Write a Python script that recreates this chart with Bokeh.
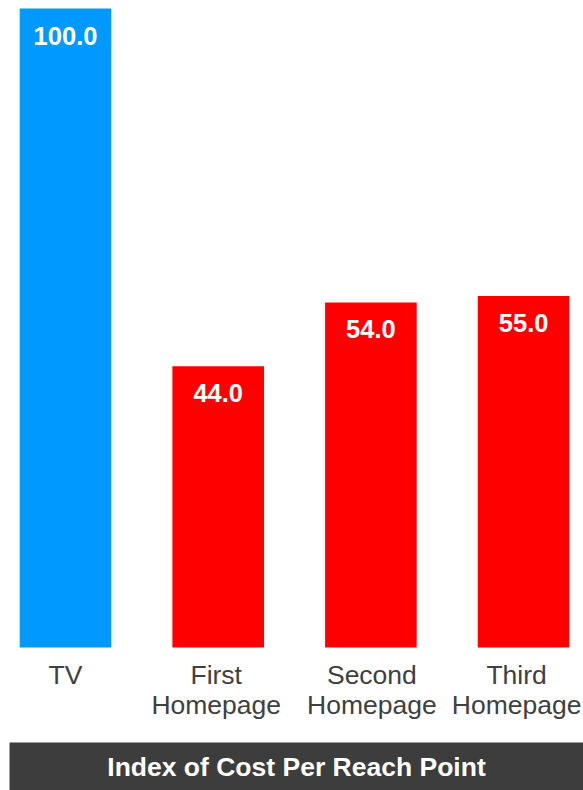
from bokeh.plotting import figure
from bokeh.models import Range1d, ColumnDataSource
from bokeh.core.properties import value
from bokeh.embed import file_html
from bokeh.resources import INLINE

# Data
categories = ["TV", "First\nHomepage", "Second\nHomepage", "Third\nHomepage"]
index_values = [100.0, 44.0, 54.0, 55.0]
bar_colors = ["#0099FF", "#FF0000", "#FF0000", "#FF0000"]
chart_title = "Index of Cost Per Reach Point"

# nudge for the last category label so it stays inside the canvas
label_shift_px = [0, -2, 1, -7]

W, H = 583, 790
positions = list(range(len(categories)))

src = ColumnDataSource(dict(
    x=positions,
    top=index_values,
    color=bar_colors,
    cat=categories,
    shift=label_shift_px,
    label=[f"{v:.1f}" for v in index_values],
    zero=[0] * len(categories),
))

# axis scaling: one category step ~152.7 px, 100 index points ~639 px
step_px = 152.7
x_start = -65 / step_px
x_end = x_start + W / step_px
y_px = 639 / 100.0
y_end = 100 + 8 / y_px
y_start = -(H - 647) / y_px

p = figure(width=W, height=H, output_backend="svg", toolbar_location=None,
           x_range=Range1d(x_start, x_end), y_range=Range1d(y_start, y_end),
           min_border=0, outline_line_color=None)
p.axis.visible = False
p.grid.visible = False
p.background_fill_color = "white"
p.border_fill_color = "white"

p.vbar(x="x", top="top", bottom=0, width=0.6, color="color", line_color=None, source=src)

# value labels inside the bar tops
p.text(x="x", y="top", text="label", source=src, text_align="center",
       text_baseline="top", y_offset=18, text_color="white",
       text_font=value("Liberation Sans"), text_font_style="bold",
       text_font_size="25.5px")

# category labels under the bars
p.text(x="x", y="zero", text="cat", source=src, text_align="center",
       text_baseline="top", x_offset="shift", y_offset=12, text_color="#404040",
       text_font=value("Liberation Sans"), text_font_size="26.5px",
       text_line_height=1.0)

# title band at the bottom
band_top = -(742 - 647) / y_px
band_left = x_start + 9 / step_px
p.quad(left=[band_left], right=[x_end], top=[band_top], bottom=[y_start],
       color="#3D3D3D", line_color=None)
p.text(x=[(band_left + x_end) / 2], y=[(band_top + y_start) / 2], text=[chart_title],
       text_align="center", text_baseline="middle", text_color="white",
       text_font=value("Liberation Sans"), text_font_style="bold",
       text_font_size="26.5px")

open("out.html", "w").write(file_html(p, INLINE))
